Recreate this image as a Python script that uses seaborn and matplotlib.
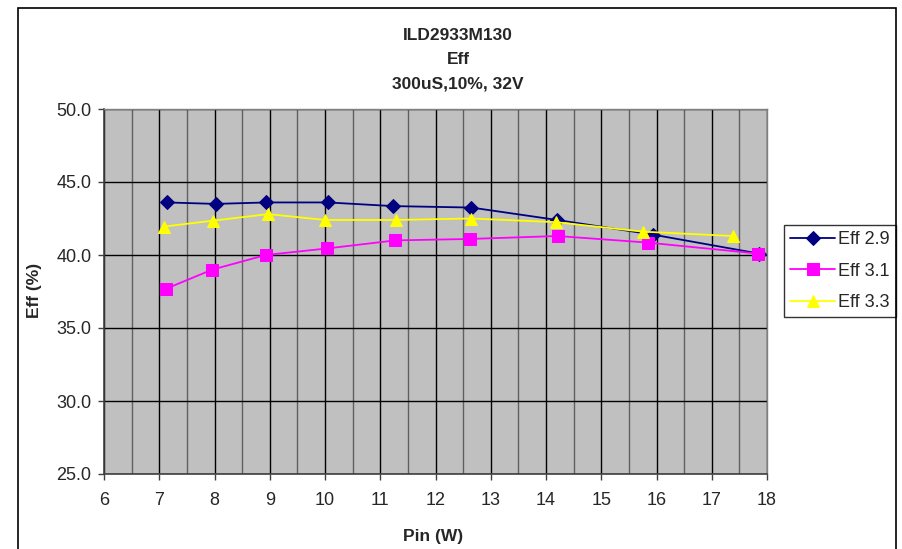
import numpy as np
import pandas as pd
import matplotlib.pyplot as plt
import seaborn as sns
from matplotlib.patches import Rectangle

pin_29 = [7.14, 8.02, 8.94, 10.05, 11.23, 12.65, 14.20, 15.93, 17.85]
eff_29 = [43.6, 43.5, 43.6, 43.6, 43.35, 43.25, 42.4, 41.4, 40.1]

pin_31 = [7.13, 7.96, 8.93, 10.04, 11.27, 12.63, 14.21, 15.84, 17.83]
eff_31 = [37.7, 39.0, 40.0, 40.45, 41.0, 41.1, 41.3, 40.85, 40.1]

pin_33 = [7.09, 7.97, 8.97, 10.0, 11.29, 12.64, 14.18, 15.75, 17.38]
eff_33 = [41.95, 42.35, 42.8, 42.4, 42.4, 42.5, 42.25, 41.6, 41.3]

series = ["Eff 2.9", "Eff 3.1", "Eff 3.3"]
colors = ["#000080", "#FF00FF", "#FFFF00"]
markers = ["D", "s", "^"]
msizes = [7, 8, 9]

df = pd.concat([
    pd.DataFrame({"Pin": pin_29, "Eff": eff_29, "series": series[0]}),
    pd.DataFrame({"Pin": pin_31, "Eff": eff_31, "series": series[1]}),
    pd.DataFrame({"Pin": pin_33, "Eff": eff_33, "series": series[2]}),
])

sns.set_style("white")
plt.rcParams["font.family"] = ["Liberation Sans", "DejaVu Sans"]

W, H = 902, 549
fig = plt.figure(figsize=(W / 100, H / 100), dpi=100)
ax = fig.add_axes([104 / W, 1 - 474 / H, (767 - 104) / W, (474 - 109) / H])
ax.set_facecolor("#C0C0C0")

for name, c, m, ms in zip(series, colors, markers, msizes):
    sub = df[df["series"] == name]
    sns.lineplot(data=sub, x="Pin", y="Eff", ax=ax, color=c, marker=m,
                 markersize=ms, markeredgecolor=c, linewidth=1.3,
                 label=name, sort=False, zorder=3)

ax.set_xlim(6, 18)
ax.set_ylim(25, 50)
ax.set_xticks(np.arange(6, 19, 1))
ax.set_xticks(np.arange(6.5, 18, 1), minor=True)
ax.set_yticks(np.arange(25, 51, 5))
ax.set_yticklabels([f"{v:.1f}" for v in np.arange(25, 51, 5)])
ax.grid(which="major", color="black", linewidth=1)
ax.grid(which="minor", axis="x", color="#606060", linewidth=1)
ax.tick_params(axis="both", which="major", labelsize=13, length=4,
               width=1, color="#404040", direction="out")
ax.tick_params(axis="x", which="major", pad=9)
ax.tick_params(axis="y", which="major", pad=5)
ax.tick_params(axis="x", which="minor", length=0)
ax.tick_params(left=True, bottom=True)
for s in ["top", "right"]:
    ax.spines[s].set_color("#808080")
    ax.spines[s].set_linewidth(1)
for s in ["left", "bottom"]:
    ax.spines[s].set_color("#404040")
    ax.spines[s].set_linewidth(1.2)

ax.set_xlabel("")
ax.set_ylabel("")
fig.text(433 / W, 1 - 537 / H, "Pin (W)", ha="center", va="center",
         fontsize=12.5, fontweight="bold")
fig.text(35 / W, 1 - 290 / H, "Eff (%)", ha="center", va="center",
         rotation=90, fontsize=12.5, fontweight="bold")

for txt, y in [("ILD2933M130", 35), ("Eff", 60), ("300uS,10%, 32V", 84)]:
    fig.text(458 / W, 1 - y / H, txt, ha="center", va="center",
             fontsize=12.5, fontweight="bold")

leg = ax.legend(loc="center left", bbox_to_anchor=(784 / W, 1 - 271 / H),
                bbox_transform=fig.transFigure, frameon=True, fancybox=False,
                edgecolor="black", fontsize=13, handlelength=2.5,
                handletextpad=0.15, borderpad=0.35, labelspacing=0.8,
                borderaxespad=0)
leg.get_frame().set_linewidth(1)

fig.add_artist(Rectangle((18 / W, -0.05), (896 - 18) / W, 1 - 8 / H + 0.05,
                         transform=fig.transFigure, fill=False,
                         edgecolor="black", linewidth=1.2, clip_on=False))

fig.savefig("out.png", dpi=100)
